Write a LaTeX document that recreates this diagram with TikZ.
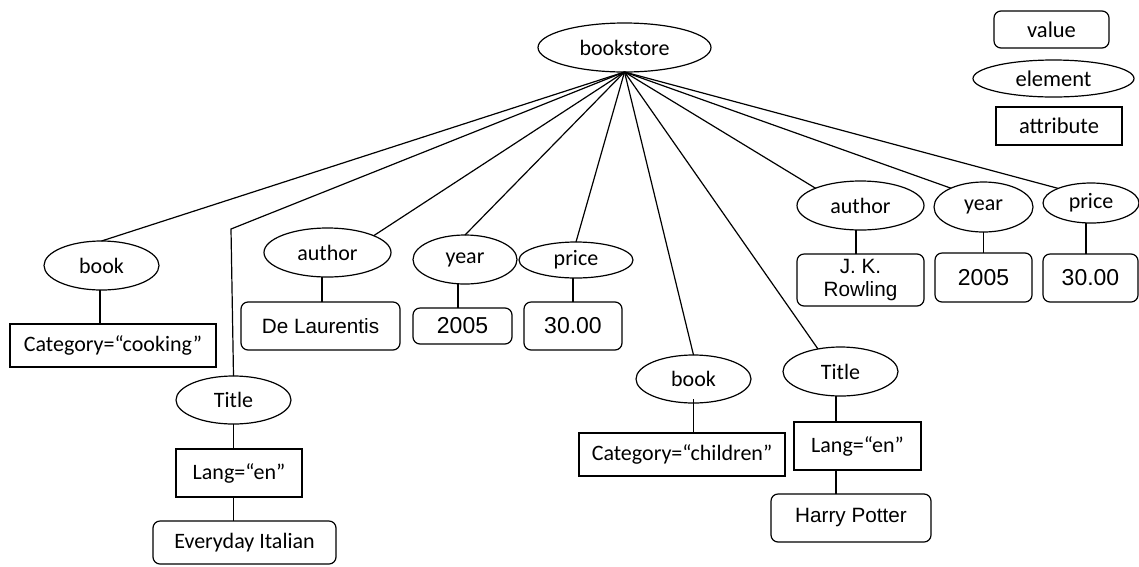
\documentclass[tikz,border=0pt]{standalone}
\usepackage{fontspec}
\setmainfont{Carlito}
\newfontfamily\valuefont{Liberation Sans}
\usetikzlibrary{shapes.geometric}
\begin{document}
\begin{tikzpicture}[x=1pt,y=-1pt,
  every node/.style={draw, inner sep=0pt, outer sep=0pt, line width=1.2pt, align=center},
  sz/.style 2 args={minimum width=#1, minimum height=#2},
  elem/.style={ellipse, font=\fontsize{22}{26}\selectfont},
  attr/.style={rectangle, font=\fontsize{22}{26}\selectfont},
  val/.style={rectangle, rounded corners=7pt, font=\valuefont\fontsize{20.7}{23.5}\selectfont},
  num/.style={rectangle, rounded corners=7pt, font=\valuefont\fontsize{23}{26}\selectfont},
  valtext/.style={rectangle, rounded corners=7pt, font=\fontsize{22}{26}\selectfont},
  link/.style={line width=1.2pt}]
\useasboundingbox (0,0) rectangle (1139,566);

% legend
\node[valtext, sz={115}{37}, font=\fontsize{22.5}{26}\selectfont] (lgval) at (1051.5,29.5) {value};
\node[elem, sz={161}{37}, font=\fontsize{22.5}{26}\selectfont] (lgelem) at (1053.5,78.5) {element};
\node[attr, sz={126}{38}, font=\fontsize{22.5}{26}\selectfont] (lgattr) at (1059,126) {attribute};

% root
\node[elem, sz={173}{49}] (root) at (624.5,47.5) {bookstore};

% first book
\node[elem, sz={115}{49}] (book1) at (101.5,265.5) {book};
\node[attr, sz={206}{43}] (cat1) at (113,345.5) {Category=“cooking”};
\coordinate (bend) at (231,229);
\node[elem, sz={115}{48}] (title1) at (233.5,400) {Title};
\node[attr, sz={126}{48}] (lang1) at (239,473) {Lang=“en”};
\node[valtext, sz={183}{43}] (ital) at (244.5,542.5) {Everyday Italian};
\node[elem, sz={127}{49}] (author1) at (327.5,252.5) {author};
\node[val, sz={159}{48}] (laur) at (320.5,326) {De Laurentis};
\node[elem, sz={104}{49}] (year1) at (465,259.5) {year};
\node[num, sz={99}{36}] (yval1) at (462.5,326) {2005};
\node[elem, sz={114}{36}] (price1) at (576,260) {price};
\node[num, sz={98}{48}] (pval1) at (573,326) {30.00};

% second book
\node[elem, sz={115}{48}] (book2) at (693.5,379) {book};
\node[attr, sz={206}{43}] (cat2) at (682,454.5) {Category=“children”};
\node[elem, sz={115}{49}] (title2) at (840.5,371.5) {Title};
\node[attr, sz={127}{48}] (lang2) at (857.5,446) {Lang=“en”};
\node[val, sz={160}{48}] (harry) at (851,518) {Harry Potter};
\node[elem, sz={127}{49}] (author2) at (860.5,205.5) {author};
\node[val, sz={127}{52}] (rowl) at (860.5,280) {J. K.\\Rowling};
\node[elem, sz={99}{50}] (year2) at (983.5,207) {year};
\node[num, sz={97}{49}] (yval2) at (983.5,277.5) {2005};
\node[elem, sz={96}{40}] (price2) at (1091,203) {price};
\node[num, sz={95}{48}] (pval2) at (1090.5,278) {30.00};

% edges from the root
\draw[link] (root.south) -- (book1.north);
\draw[link] (root.south) -- (bend) -- (title1.north);
\draw[link] (root.south) -- (author1.20);
\draw[link] (root.south) -- (year1.north);
\draw[link] (root.south) -- (price1.north);
\draw[link] (root.south) -- (book2.north);
\draw[link] (root.south) -- (title2.135);
\draw[link] (root.south) -- (author2.159);
\draw[link] (root.south) -- (year2.150);
\draw[link] (root.south) -- (price2.156);

% vertical links to attributes and values
\draw[link] ([xshift=-1.5pt]book1.south) -- ([xshift=-1.5pt]book1.south |- cat1.north);
\draw[link] (title1.south) -- (title1.south |- lang1.north);
\draw[link] (title1.south |- lang1.south) -- (title1.south |- ital.north);
\draw[link] ([xshift=-5.5pt]author1.south) -- ([xshift=-5.5pt]author1.south |- laur.north);
\draw[link] ([xshift=-7pt]year1.south) -- ([xshift=-7pt]year1.south |- yval1.north);
\draw[link] ([xshift=-3pt]price1.south) -- ([xshift=-3pt]price1.south |- pval1.north);
\draw[link] ([yshift=4pt]book2.south) -- (book2.south |- cat2.north);
\draw[link] ([xshift=-4.5pt]title2.south) -- ([xshift=-4.5pt]title2.south |- lang2.north);
\draw[link] ([xshift=-4.5pt]title2.south |- lang2.south) -- ([xshift=-4.5pt]title2.south |- harry.north);
\draw[link] ([xshift=-4.5pt]author2.south) -- ([xshift=-4.5pt]author2.south |- rowl.north);
\draw[link] (year2.south) -- (year2.south |- yval2.north);
\draw[link] ([xshift=-5pt]price2.south) -- ([xshift=-5pt]price2.south |- pval2.north);
\end{tikzpicture}
\end{document}
